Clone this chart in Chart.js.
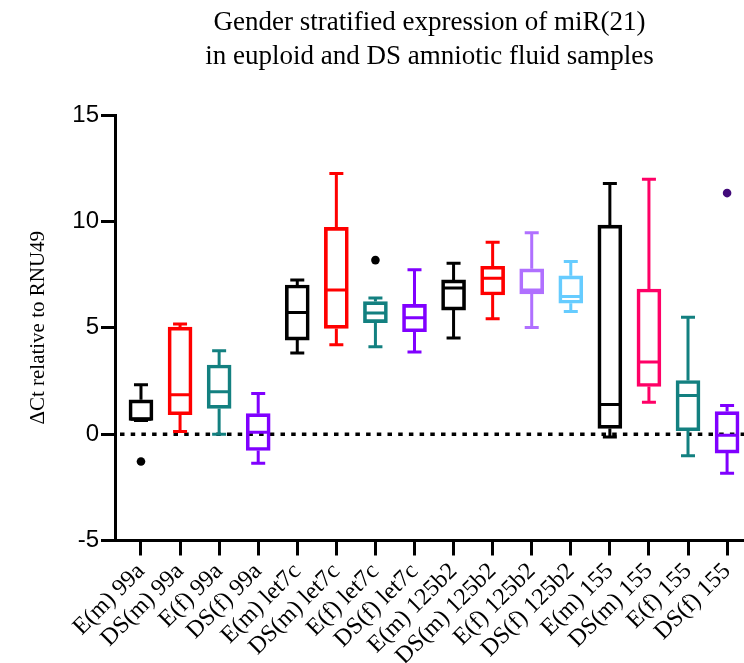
<!DOCTYPE html>
<html>
<head>
<meta charset="utf-8">
<title>miR(21) box plot</title>
<script src="https://cdn.jsdelivr.net/npm/chart.js@4.4.1/dist/chart.umd.min.js"></script>
<style>
  html, body { margin: 0; padding: 0; background: #fff; overflow: hidden; }
  #wrap { width: 744px; height: 663px; position: relative; }
</style>
</head>
<body>
<div id="wrap"><canvas id="chart"></canvas></div>
<script>
// categories along the x axis
const labels = [
  'E(m) 99a', 'DS(m) 99a', 'E(f) 99a', 'DS(f) 99a',
  'E(m) let7c', 'DS(m) let7c', 'E(f) let7c', 'DS(f) let7c',
  'E(m) 125b2', 'DS(m) 125b2', 'E(f) 125b2', 'DS(f) 125b2',
  'E(m) 155', 'DS(m) 155', 'E(f) 155', 'DS(f) 155'
];

// box plot values (dCt)
const mins    = [0.64, 0.12, 0.00, -1.37, 3.81, 4.20, 4.11, 3.86, 4.52, 5.42, 5.01, 5.76, -0.14, 1.50, -1.02, -1.84];
const q1s     = [0.64, 0.91, 1.21, -0.77, 4.42, 4.97, 5.24, 4.81, 5.83, 6.54, 6.59, 6.15, 0.27, 2.24, 0.16, -0.89];
const medians = [0.70, 1.85, 1.99, 0.09, 5.72, 6.78, 5.69, 5.47, 6.87, 7.33, 6.78, 6.47, 1.39, 3.39, 1.82, -0.05];
const q3s     = [1.61, 5.03, 3.25, 0.96, 7.01, 9.72, 6.23, 6.10, 7.25, 7.89, 7.77, 7.44, 9.82, 6.82, 2.52, 1.06];
const maxs    = [2.32, 5.18, 3.92, 1.91, 7.25, 12.25, 6.40, 7.73, 8.03, 9.02, 9.47, 8.11, 11.78, 11.98, 5.49, 1.35];

// single points outside the whiskers
const outlierIndex  = [0, 6, 15];
const outlierValues = [-1.29, 8.18, 11.33];
const outlierColors = ['#000000', '#000000', '#420a7a'];

const yTicks = [-5, 0, 5, 10, 15];

const boxColors = [
  '#000000', '#ff0000', '#138080', '#8000ff',
  '#000000', '#ff0000', '#138080', '#8000ff',
  '#000000', '#ff0000', '#b070ff', '#66ccff',
  '#000000', '#ff0066', '#138080', '#8000ff'
];

const serif = 'Liberation Serif, Times New Roman, serif';
const sans = 'Liberation Sans, Arial, sans-serif';

// whiskers, caps and median lines drawn with the chart's own scales
const whiskerPlugin = {
  id: 'whiskers',
  afterDatasetsDraw(chart) {
    const { ctx, scales: { x, y } } = chart;
    const halfBox = 10.5;
    const halfCap = 7;

    ctx.save();
    ctx.lineWidth = 3;
    ctx.lineCap = 'butt';

    labels.forEach((label, i) => {
      const px = x.getPixelForValue(i + 1);
      const yMin = y.getPixelForValue(mins[i]);
      const yQ1 = y.getPixelForValue(q1s[i]);
      const yMed = y.getPixelForValue(medians[i]);
      const yQ3 = y.getPixelForValue(q3s[i]);
      const yMax = y.getPixelForValue(maxs[i]);

      ctx.strokeStyle = boxColors[i];
      ctx.beginPath();
      // upper whisker
      ctx.moveTo(px, yQ3);
      ctx.lineTo(px, yMax);
      ctx.moveTo(px - halfCap, yMax);
      ctx.lineTo(px + halfCap, yMax);
      // lower whisker
      ctx.moveTo(px, yQ1);
      ctx.lineTo(px, yMin);
      ctx.moveTo(px - halfCap, yMin);
      ctx.lineTo(px + halfCap, yMin);
      // median
      ctx.moveTo(px - halfBox, yMed);
      ctx.lineTo(px + halfBox, yMed);
      ctx.stroke();
    });

    ctx.restore();
  }
};

// dotted reference line at zero
const zeroLinePlugin = {
  id: 'zeroLine',
  beforeDatasetsDraw(chart) {
    const { ctx, chartArea, scales: { y } } = chart;
    const py = y.getPixelForValue(0);

    ctx.save();
    ctx.strokeStyle = '#000';
    ctx.lineWidth = 3.5;
    ctx.setLineDash([4.5, 6.2]);
    ctx.beginPath();
    ctx.moveTo(chartArea.left + 5, py);
    ctx.lineTo(chartArea.right, py);
    ctx.stroke();
    ctx.restore();
  }
};

const boxData = labels.map((label, i) => ({ x: i + 1, y: [q1s[i], q3s[i]] }));
const outlierData = outlierIndex.map((idx, k) => ({ x: idx + 1, y: outlierValues[k] }));

new Chart(document.getElementById('chart'), {
  type: 'bar',
  data: {
    datasets: [
      {
        type: 'bar',
        data: boxData,
        backgroundColor: 'rgba(0,0,0,0)',
        borderColor: boxColors,
        borderWidth: 3,
        borderSkipped: false,
        barThickness: 24,
        grouped: false
      },
      {
        type: 'scatter',
        data: outlierData,
        backgroundColor: outlierColors,
        borderColor: outlierColors,
        pointRadius: 4.3,
        pointBorderWidth: 0
      }
    ]
  },
  options: {
    responsive: true,
    maintainAspectRatio: false,
    animation: false,
    layout: { padding: 0, autoPadding: false },
    plugins: {
      legend: { display: false },
      tooltip: { enabled: false },
      title: {
        display: true,
        fullSize: false,
        text: ['Gender stratified expression of miR(21)', 'in euploid and DS amniotic fluid samples'],
        color: '#000',
        font: { family: serif, size: 27, weight: 'normal', lineHeight: 34 / 27 },
        padding: { top: 5.5, bottom: 41.5 }
      }
    },
    scales: {
      x: {
        type: 'linear',
        min: 0.335,
        max: 16.433,
        offset: false,
        afterBuildTicks(scale) {
          scale.ticks = labels.map((label, i) => ({ value: i + 1 }));
        },
        afterFit(scale) {
          scale.height = 122.5;
          scale.paddingLeft = 0;
          scale.paddingRight = 0;
        },
        ticks: {
          autoSkip: false,
          minRotation: 45,
          maxRotation: 45,
          padding: 2,
          color: '#000',
          font: { family: serif, size: 24 },
          callback: value => labels[value - 1]
        },
        grid: {
          offset: false,
          drawOnChartArea: false,
          drawTicks: true,
          tickLength: 15,
          tickWidth: 3,
          tickColor: '#000'
        },
        border: { display: true, color: '#000', width: 3 }
      },
      y: {
        min: -5,
        max: 15,
        afterBuildTicks(scale) {
          scale.ticks = yTicks.map(v => ({ value: v }));
        },
        afterFit(scale) {
          scale.width = 115;
          scale.paddingTop = 0;
          scale.paddingBottom = 0;
        },
        ticks: {
          padding: 2,
          color: '#000',
          font: { family: sans, size: 24 }
        },
        grid: {
          drawOnChartArea: false,
          drawTicks: true,
          tickLength: 14,
          tickWidth: 3,
          tickColor: '#000'
        },
        border: { display: true, color: '#000', width: 3 },
        title: {
          display: true,
          text: '\u0394Ct relative to RNU49',
          color: '#000',
          font: { family: serif, size: 21, lineHeight: 1.2 },
          padding: { top: 25.4, bottom: 0 }
        }
      }
    }
  },
  plugins: [zeroLinePlugin, whiskerPlugin]
});
</script>
</body>
</html>
